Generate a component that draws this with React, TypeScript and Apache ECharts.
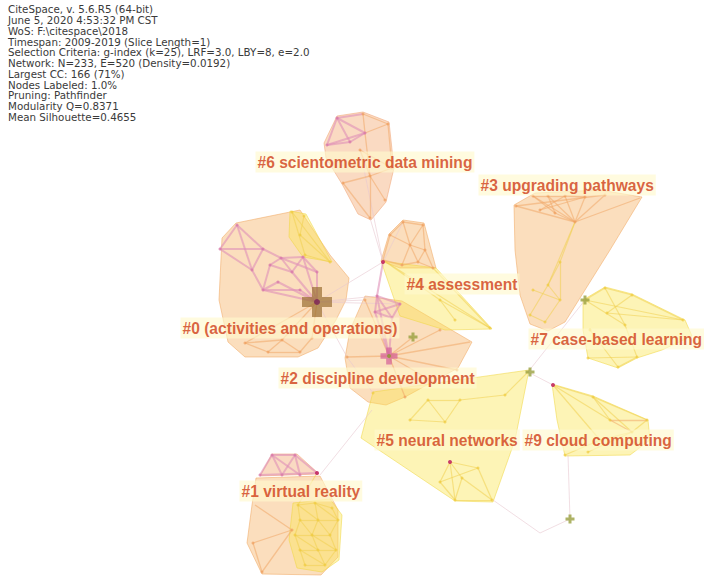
import React, { useEffect, useRef } from "react";
import * as echarts from "echarts";

type P = [number, number];
type E = [number, number, number, number];

// ---- header text ----
const headerLines = [
  "CiteSpace, v. 5.6.R5 (64-bit)",
  "June 5, 2020 4:53:32 PM CST",
  "WoS: F:\\citespace\\2018",
  "Timespan: 2009-2019 (Slice Length=1)",
  "Selection Criteria: g-index (k=25), LRF=3.0, LBY=8, e=2.0",
  "Network: N=233, E=520 (Density=0.0192)",
  "Largest CC: 166 (71%)",
  "Nodes Labeled: 1.0%",
  "Pruning: Pathfinder",
  "Modularity Q=0.8371",
  "Mean Silhouette=0.4655",
];

// ---- cluster labels ----
const labelTexts = [
  "#6 scientometric data mining",
  "#3 upgrading pathways",
  "#4 assessment",
  "#0 (activities and operations)",
  "#7 case-based learning",
  "#2 discipline development",
  "#5 neural networks",
  "#9 cloud computing",
  "#1 virtual reality",
];
const labelX = [255, 478, 404, 180, 528, 278, 374, 522, 239];
const labelY = [162, 185, 284, 328, 339, 378, 440, 440, 491];

// ---- cluster hulls ----
const hull6: P[] = [[337,116],[363,112],[389,122],[394,168],[386,202],[371,220],[358,214],[342,184],[326,158],[324,143]];
const hull0: P[] = [[222,238],[236,223],[300,210],[330,255],[349,278],[346,300],[336,320],[318,348],[298,357],[245,357],[228,342],[219,300]];
const hull0y: P[] = [[290,211],[306,214],[332,262],[303,257],[289,237]];
const hull2: P[] = [[365,296],[402,301],[472,342],[458,368],[405,397],[386,405],[368,402],[350,388],[345,358],[350,330]];
const hull4o: P[] = [[403,220],[424,223],[436,268],[400,268],[381,261],[389,234]];
const hull4y: P[] = [[381,261],[436,268],[492,329],[445,330],[400,316]];
const hull3: P[] = [[514,205],[535,193],[600,190],[642,197],[610,250],[565,322],[548,331],[530,324],[520,295],[515,250]];
const hull7: P[] = [[583,300],[605,287],[632,294],[685,320],[692,336],[662,350],[637,358],[618,368],[588,358],[583,330]];
const hull9: P[] = [[552,384],[593,396],[648,420],[650,440],[630,455],[565,456],[557,420]];
const hull5: P[] = [[373,392],[529,370],[515,440],[493,502],[455,501],[361,438]];
const hull1o: P[] = [[256,478],[320,476],[338,510],[338,557],[321,575],[262,574],[247,543],[252,505]];
const hull1p: P[] = [[260,476],[272,454],[297,454],[319,474]];
const hull1y: P[] = [[293,503],[330,499],[342,515],[339,560],[322,572],[297,568],[289,540]];

const hullList = [hull6, hull0, hull2, hull3, hull1o, hull4o, hull1p, hull0y, hull4y, hull5, hull7, hull9, hull1y];
const hullTone = ["pinkish", "orange", "orange", "orange", "orange", "orange", "pinkish", "yellow", "yellow", "yellow", "yellow", "yellow", "yellow"];

// ---- nodes ----
const nodesPink: P[] = [
  [237,225],[220,249],[263,249],[252,270],[281,258],[303,257],[317,272],[263,290],[278,282],[292,272],[270,265],[300,290],
  [337,118],[327,145],[365,133],[350,142],
  [377,296],[400,304],[375,312],[392,318],
  [272,455],[295,455],[260,475],[282,475],[300,475],
];
const nodesOrange: P[] = [
  [245,343],[268,352],[300,352],[312,338],[282,340],
  [363,114],[388,124],[392,168],[370,176],[385,200],[370,218],[343,183],[360,150],
  [403,222],[423,225],[433,268],[390,235],[410,245],[425,250],[402,265],[418,262],
  [347,357],[365,300],[405,397],[440,330],[430,380],[457,370],
  [516,206],[533,196],[548,196],[565,196],[585,197],[605,195],[575,222],[555,213],[540,210],
  [253,543],[292,530],[262,572],
];
const nodesYellow: P[] = [
  [292,212],[304,216],[330,262],[305,255],[300,235],
  [490,328],[440,300],[455,320],
  [560,262],[548,285],[560,300],[530,315],[545,322],[533,290],
  [605,288],[632,295],[683,320],[607,313],[625,325],[590,330],[588,358],[618,367],[637,357],
  [593,397],[647,420],[610,420],[632,432],[588,452],[565,455],[600,440],
  [373,393],[410,420],[428,400],[445,422],[460,400],[505,395],[440,482],[462,478],[455,500],[492,500],[478,468],
  [298,505],[315,503],[332,508],[300,520],[318,520],[338,520],[295,535],[312,535],[330,535],[300,550],[318,550],[336,550],[305,565],[325,565],
];
const nodesRed: P[] = [[450,462],[553,385],[383,262],[317,473]];

// ---- cross markers ----
const crossBig: P[] = [[317,302]];
const crossPink: P[] = [[389,356]];
const crossGreen: P[] = [[585,300],[530,372],[570,519],[413,337]];

// ---- edges ----
const edgesPink: E[] = [
  [237,225,220,249],[237,225,263,249],[220,249,263,249],[220,249,252,270],[263,249,252,270],[237,225,252,270],
  [252,270,263,290],[263,249,281,258],[281,258,303,257],[303,257,317,272],[281,258,270,265],[270,265,263,290],
  [263,290,278,282],[278,282,317,302],[292,272,317,302],[317,272,317,302],[303,257,292,272],[281,258,292,272],
  [263,290,317,302],[281,258,317,272],[270,265,292,272],[303,257,317,302],[300,290,317,302],[263,290,300,290],
  [337,118,327,145],[337,118,365,133],[327,145,365,133],[337,118,350,142],[327,145,350,142],[350,142,365,133],[363,114,337,118],
  [377,296,400,304],[377,296,375,312],[400,304,392,318],[375,312,392,318],[377,296,392,318],[400,304,375,312],
  [383,262,377,296],[377,296,389,356],[392,318,389,356],[375,312,389,356],
  [272,455,295,455],[260,475,317,473],[272,455,260,475],[272,455,282,475],[295,455,282,475],[295,455,317,473],[272,455,300,475],[295,455,300,475],
];
const edgesOrange: E[] = [
  [245,343,268,352],[268,352,300,352],[300,352,312,338],[282,340,268,352],[282,340,300,352],[245,343,282,340],
  [317,302,282,340],[317,302,312,338],[317,302,245,343],
  [363,114,388,124],[363,114,365,133],[388,124,392,168],[365,133,370,176],[370,176,392,168],[370,176,385,200],
  [370,176,370,218],[370,176,343,183],[370,176,360,150],[343,183,370,218],[388,124,365,133],[360,150,392,168],
  [403,222,423,225],[403,222,390,235],[390,235,383,260],[403,222,410,245],[423,225,410,245],[423,225,425,250],
  [410,245,425,250],[410,245,402,265],[425,250,433,268],[390,235,410,245],[402,265,418,262],[418,262,433,268],
  [425,250,418,262],[383,260,402,265],[410,245,418,262],
  [389,356,347,357],[389,356,470,342],[389,356,413,337],[389,356,405,397],[389,356,365,300],[389,356,440,330],[389,356,430,380],[389,356,457,370],
  [516,206,575,222],[533,196,575,222],[548,196,575,222],[565,196,575,222],[585,197,575,222],[605,195,575,222],
  [533,196,555,213],[548,196,555,213],[565,196,540,210],[516,206,605,195],[540,210,585,197],[533,196,548,196],
  [548,196,565,196],[565,196,585,197],[555,213,575,222],[575,222,640,198],
  [253,543,292,530],[253,543,262,572],[292,530,262,572],[255,505,292,530],
  [610,420,647,420],[610,420,632,432],
];
const edgesYellow: E[] = [
  [292,212,330,262],[292,212,305,255],[305,255,330,262],[300,235,330,262],[304,216,300,235],
  [383,260,490,328],[433,268,490,328],[440,300,490,328],[383,260,440,300],[440,300,455,320],
  [575,222,560,262],[575,222,548,285],[560,262,548,285],[548,285,530,315],[548,285,560,300],[560,300,545,322],
  [533,290,560,300],[530,315,545,322],[560,262,560,300],
  [585,300,605,288],[605,288,632,295],[632,295,683,320],[585,300,683,320],[605,288,625,325],[632,295,607,313],
  [585,300,625,325],[607,313,683,320],[590,330,618,367],[588,358,637,357],[618,367,637,357],[625,325,637,357],
  [553,385,593,397],[593,397,647,420],[553,385,610,420],[593,397,610,420],[632,432,647,420],
  [553,385,600,440],[600,440,632,432],[588,452,632,432],[565,455,600,440],[593,397,632,432],
  [410,420,428,400],[428,400,445,422],[410,420,445,422],[445,422,460,400],[428,400,460,400],[460,400,505,395],
  [505,395,528,372],[450,462,440,482],[450,462,462,478],[450,462,478,468],[440,482,455,500],[462,478,455,500],
  [478,468,492,500],[462,478,492,500],[440,482,478,468],[455,500,492,500],[450,462,455,500],
  [298,505,315,503],[315,503,332,508],[298,505,300,520],[315,503,318,520],[332,508,338,520],[300,520,318,520],
  [318,520,338,520],[300,520,295,535],[318,520,312,535],[338,520,330,535],[295,535,312,535],[312,535,330,535],
  [295,535,300,550],[312,535,318,550],[330,535,336,550],[300,550,318,550],[318,550,336,550],[300,550,305,565],
  [318,550,325,565],[336,550,325,565],[305,565,325,565],[298,505,318,520],[315,503,338,520],[300,520,312,535],
  [318,520,330,535],[295,535,318,550],[312,535,336,550],[300,550,325,565],[317,473,298,505],
];
const edgesFaint: E[] = [
  [370,218,383,262],[317,302,383,262],[317,302,377,296],[317,302,400,304],[317,302,365,300],[317,302,347,357],
  [383,262,403,222],[493,500,540,533],[540,533,570,519],[570,519,568,455],[320,475,372,410],
  [528,372,553,385],[528,372,585,300],[347,357,373,393],[360,150,383,262],
];

const toneFill: Record<string, string> = {
  orange: "rgba(246,186,118,0.48)",
  pinkish: "rgba(245,178,128,0.48)",
  yellow: "rgba(250,228,80,0.42)",
};
const toneStroke: Record<string, string> = {
  orange: "rgba(240,170,100,0.55)",
  pinkish: "rgba(240,165,120,0.55)",
  yellow: "rgba(240,215,70,0.55)",
};

const crossPath = "path://M10,0H20V10H30V20H20V30H10V20H0V10H10Z";

const edgeData = (list: E[]) => list.map((e) => ({ coords: [[e[0], e[1]], [e[2], e[3]]] }));

export default function App() {
  const ref = useRef<HTMLDivElement>(null);
  useEffect(() => {
    if (!ref.current) return;
    const chart = echarts.init(ref.current, null, { renderer: "svg" });
    const option: any = {
      animation: false,
      backgroundColor: "#ffffff",
      grid: { left: 0, right: 0, top: 0, bottom: 0 },
      xAxis: { type: "value", min: 0, max: 704, show: false },
      yAxis: { type: "value", min: 0, max: 576, inverse: true, show: false },
      graphic: [
        {
          type: "text",
          left: 8,
          top: 4,
          z: 100,
          style: {
            text: headerLines.join("\n"),
            font: "10.3px 'DejaVu Sans', Verdana, sans-serif",
            lineHeight: 10.75,
            fill: "#3a3a3a",
          },
        },
      ],
      series: [
        {
          type: "custom",
          coordinateSystem: "cartesian2d",
          z: 1,
          silent: true,
          data: hullList.map((_, i) => [i, i]),
          renderItem: (_p: any, api: any) => {
            const i = api.value(0);
            const tone = hullTone[i];
            return {
              type: "polygon",
              shape: { points: hullList[i].map((pt) => api.coord(pt)) },
              style: { fill: toneFill[tone], stroke: toneStroke[tone], lineWidth: 1 },
            };
          },
        },
        {
          type: "lines",
          coordinateSystem: "cartesian2d",
          z: 2,
          silent: true,
          data: edgeData(edgesFaint),
          lineStyle: { color: "#e8c8d0", width: 1, opacity: 0.6 },
        },
        {
          type: "lines",
          coordinateSystem: "cartesian2d",
          z: 2,
          silent: true,
          data: edgeData(edgesYellow),
          lineStyle: { color: "#f0d050", width: 1.2, opacity: 0.55 },
        },
        {
          type: "lines",
          coordinateSystem: "cartesian2d",
          z: 2,
          silent: true,
          data: edgeData(edgesOrange),
          lineStyle: { color: "#f0a868", width: 1.3, opacity: 0.55 },
        },
        {
          type: "lines",
          coordinateSystem: "cartesian2d",
          z: 2,
          silent: true,
          data: edgeData(edgesPink),
          lineStyle: { color: "#e090b8", width: 2, opacity: 0.6 },
        },
        {
          type: "scatter",
          z: 3,
          silent: true,
          symbolSize: 3,
          data: nodesYellow,
          itemStyle: { color: "#efcc40", opacity: 0.7 },
        },
        {
          type: "scatter",
          z: 3,
          silent: true,
          symbolSize: 3,
          data: nodesOrange,
          itemStyle: { color: "#f0a060", opacity: 0.7 },
        },
        {
          type: "scatter",
          z: 3,
          silent: true,
          symbolSize: 3,
          data: nodesPink,
          itemStyle: { color: "#d878a8", opacity: 0.75 },
        },
        {
          type: "scatter",
          z: 4,
          silent: true,
          symbolSize: 4,
          data: nodesRed,
          itemStyle: { color: "#c02060", opacity: 0.85 },
        },
        {
          type: "scatter",
          z: 5,
          silent: true,
          symbol: crossPath,
          symbolSize: 30,
          data: crossBig,
          itemStyle: { color: "rgba(150,108,45,0.85)" },
        },
        {
          type: "scatter",
          z: 5,
          silent: true,
          symbol: crossPath,
          symbolSize: 17,
          data: crossPink,
          itemStyle: { color: "rgba(210,90,150,0.85)" },
        },
        {
          type: "scatter",
          z: 5,
          silent: true,
          symbol: crossPath,
          symbolSize: 9,
          data: crossGreen,
          itemStyle: { color: "#9aa040" },
        },
        {
          type: "scatter",
          z: 6,
          silent: true,
          symbolSize: 6,
          data: crossBig,
          itemStyle: { color: "#7a2058" },
        },
        {
          type: "scatter",
          z: 6,
          silent: true,
          symbolSize: 4,
          data: crossPink,
          itemStyle: { color: "#8a9a30" },
        },
        {
          type: "scatter",
          z: 10,
          silent: true,
          symbolSize: 1,
          itemStyle: { color: "rgba(0,0,0,0)" },
          data: labelTexts.map((t, i) => ({ name: t, value: [labelX[i], labelY[i]] })),
          label: {
            show: true,
            position: "right",
            distance: 0,
            formatter: (p: any) => p.name,
            color: "#cf3c16",
            fontSize: 15.6,
            fontWeight: "bold",
            fontFamily: "'Liberation Sans', Arial, sans-serif",
            backgroundColor: "rgba(255,249,205,0.8)",
            padding: [3, 2, 2, 2],
          },
        },
      ],
    };
    chart.setOption(option);
    return () => chart.dispose();
  }, []);
  return (
    <div
      ref={ref}
      style={{ position: "absolute", left: 0, top: 0, width: 704, height: 576 }}
    />
  );
}
